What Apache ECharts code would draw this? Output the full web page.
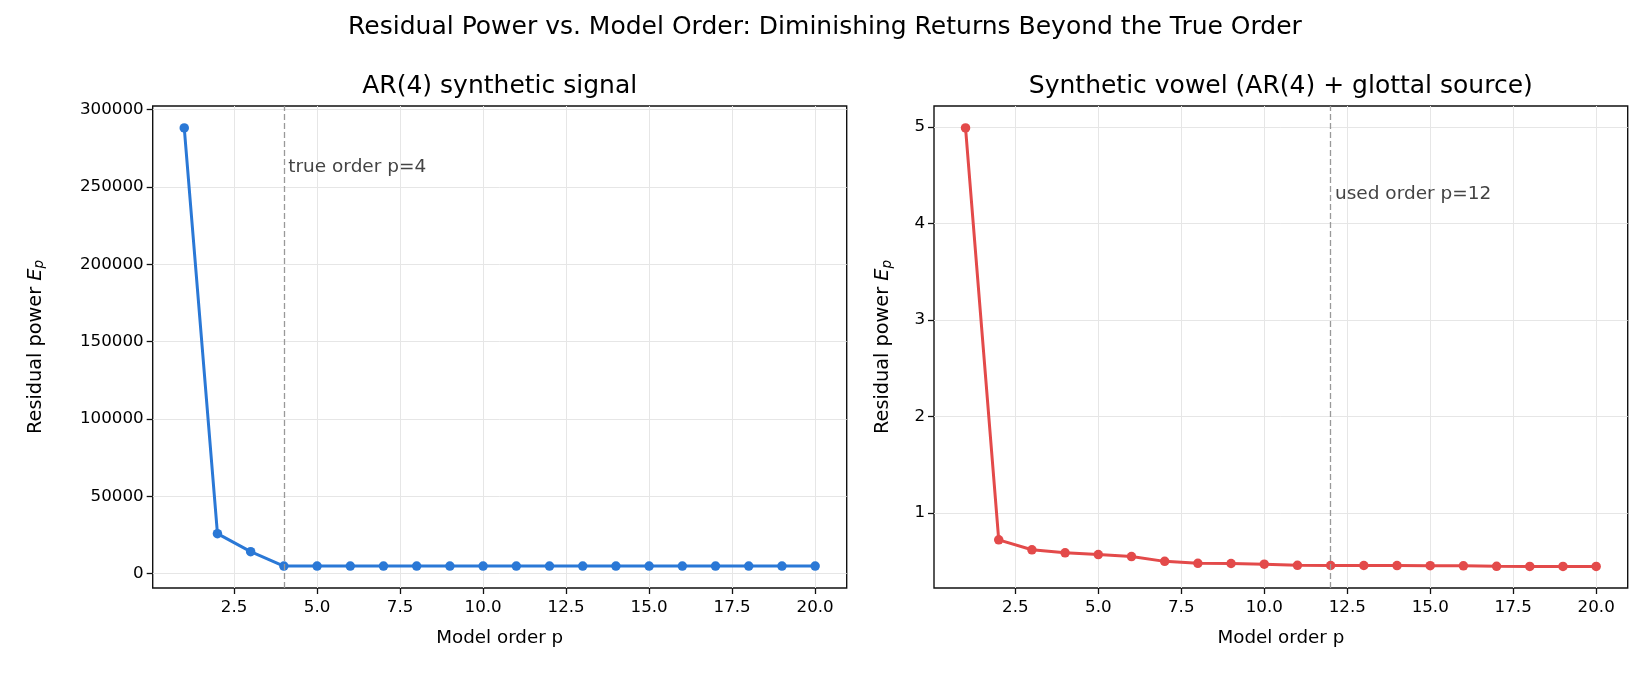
<!DOCTYPE html>
<html>
<head>
<meta charset="utf-8">
<script src="https://cdn.jsdelivr.net/npm/echarts@6/dist/echarts.min.js"></script>
<style>
  html, body { margin: 0; padding: 0; background: #fff; }
  #chart { width: 1650px; height: 675px; }
</style>
</head>
<body>
<div id="chart"></div>
<script>
const FONT = "DejaVu Sans";

// model orders p = 1..20
const orders = [1, 2, 3, 4, 5, 6, 7, 8, 9, 10, 11, 12, 13, 14, 15, 16, 17, 18, 19, 20];
// residual power E_p, AR(4) synthetic signal
const arPower = [288200, 25850, 14200, 4900, 4900, 4900, 4900, 4900, 4900, 4900,
                 4900, 4900, 4900, 4900, 4900, 4900, 4900, 4900, 4900, 4900];
// residual power E_p, synthetic vowel
const vowelPower = [4.99, 0.722, 0.619, 0.588, 0.569, 0.549, 0.499, 0.479, 0.477, 0.470,
                    0.458, 0.456, 0.456, 0.455, 0.454, 0.453, 0.448, 0.447, 0.447, 0.446];

const xTicks = [2.5, 5, 7.5, 10, 12.5, 15, 17.5, 20];
const arTicks = [0, 50000, 100000, 150000, 200000, 250000, 300000];
const vowelTicks = [1, 2, 3, 4, 5];

const trueOrder = 4;
const usedOrder = 12;

const chart = echarts.init(document.getElementById("chart"));

const tickStyle = { color: "#111", width: 1.3 };
const gridLine = { show: true, lineStyle: { color: "#e6e6e6", width: 1 } };

const xAxisFor = (gridIndex) => ({
  type: "value",
  gridIndex,
  min: 0.05,
  max: 20.95,
  name: "Model order p",
  nameLocation: "middle",
  nameGap: 41,
  nameTextStyle: { fontFamily: FONT, fontSize: 18.3, color: "#000" },
  axisLine: { show: false, onZero: false },
  axisTick: { show: true, length: 6, lineStyle: tickStyle, customValues: xTicks },
  axisLabel: {
    customValues: xTicks,
    formatter: (v) => v.toFixed(1),
    fontFamily: FONT, fontSize: 16.7, color: "#000", margin: 11,
  },
  splitLine: gridLine,
});

const yName = "{a|Residual power }{e|E}{s|p}";
const yRich = {
  a: { fontFamily: FONT, fontSize: 19.3, color: "#000", lineHeight: 22 },
  e: { fontFamily: FONT, fontSize: 19.3, color: "#000", fontStyle: "italic", lineHeight: 22 },
  s: { fontFamily: FONT, fontSize: 13.5, color: "#000", fontStyle: "italic", lineHeight: 12, verticalAlign: "bottom" },
};

const yAxisFor = (gridIndex, min, max, ticks, gap) => ({
  type: "value",
  gridIndex,
  min,
  max,
  name: yName,
  nameLocation: "middle",
  nameRotate: 90,
  nameGap: gap,
  nameTextStyle: { rich: yRich },
  axisLine: { show: false, onZero: false },
  axisTick: { show: true, length: 6, lineStyle: tickStyle, customValues: ticks },
  axisLabel: {
    customValues: ticks,
    formatter: (v) => String(v),
    fontFamily: FONT, fontSize: 16.7, color: "#000", margin: 9,
  },
  splitLine: gridLine,
});

const noteLabel = (text) => ({
  show: true,
  formatter: text,
  position: [0, 0],
  offset: [0, 4],
  align: "left",
  verticalAlign: "bottom",
  fontFamily: FONT,
  fontSize: 18.5,
  color: "#444",
});

const vline = (x) => ({
  silent: true,
  symbol: "none",
  animation: false,
  label: { show: false },
  lineStyle: { color: "#999", type: [6, 3], width: 1.3 },
  data: [{ xAxis: x }],
});

const option = {
  animation: false,
  backgroundColor: "#fff",
  title: [
    {
      text: "Residual Power vs. Model Order: Diminishing Returns Beyond the True Order",
      left: 825, top: 14.5, textAlign: "center", padding: 0,
      textStyle: { fontFamily: FONT, fontSize: 25, fontWeight: "normal", color: "#000" },
    },
    {
      text: "AR(4) synthetic signal",
      left: 499.7, top: 73.5, textAlign: "center", padding: 0,
      textStyle: { fontFamily: FONT, fontSize: 25, fontWeight: "normal", color: "#000" },
    },
    {
      text: "Synthetic vowel (AR(4) + glottal source)",
      left: 1280.8, top: 73.5, textAlign: "center", padding: 0,
      textStyle: { fontFamily: FONT, fontSize: 25, fontWeight: "normal", color: "#000" },
    },
  ],
  grid: [
    { left: 152.7, top: 106, width: 694, height: 482, show: true, borderColor: "#111", borderWidth: 1.4, backgroundColor: "transparent" },
    { left: 934, top: 106, width: 693.7, height: 482, show: true, borderColor: "#111", borderWidth: 1.4, backgroundColor: "transparent" },
  ],
  xAxis: [xAxisFor(0), xAxisFor(1)],
  yAxis: [
    yAxisFor(0, -9300, 302400, arTicks, 106),
    yAxisFor(1, 0.223, 5.217, vowelTicks, 40),
  ],
  series: [
    {
      type: "line",
      xAxisIndex: 0, yAxisIndex: 0,
      data: orders.map((p, i) => [p, arPower[i]]),
      symbol: "circle", symbolSize: 9.5,
      lineStyle: { color: "#2a78d6", width: 3 },
      itemStyle: { color: "#2a78d6" },
      markLine: vline(trueOrder),
      markPoint: {
        symbol: "circle", symbolSize: 0, silent: true,
        data: [{ coord: [trueOrder + 0.13, Math.max(...arPower) * 0.9] }],
        label: noteLabel("true order p=" + trueOrder),
      },
    },
    {
      type: "line",
      xAxisIndex: 1, yAxisIndex: 1,
      data: orders.map((p, i) => [p, vowelPower[i]]),
      symbol: "circle", symbolSize: 9.5,
      lineStyle: { color: "#e34a4a", width: 3 },
      itemStyle: { color: "#e34a4a" },
      markLine: vline(usedOrder),
      markPoint: {
        symbol: "circle", symbolSize: 0, silent: true,
        data: [{ coord: [usedOrder + 0.13, Math.max(...vowelPower) * 0.85] }],
        label: noteLabel("used order p=" + usedOrder),
      },
    },
  ],
};

chart.setOption(option);
</script>
</body>
</html>
